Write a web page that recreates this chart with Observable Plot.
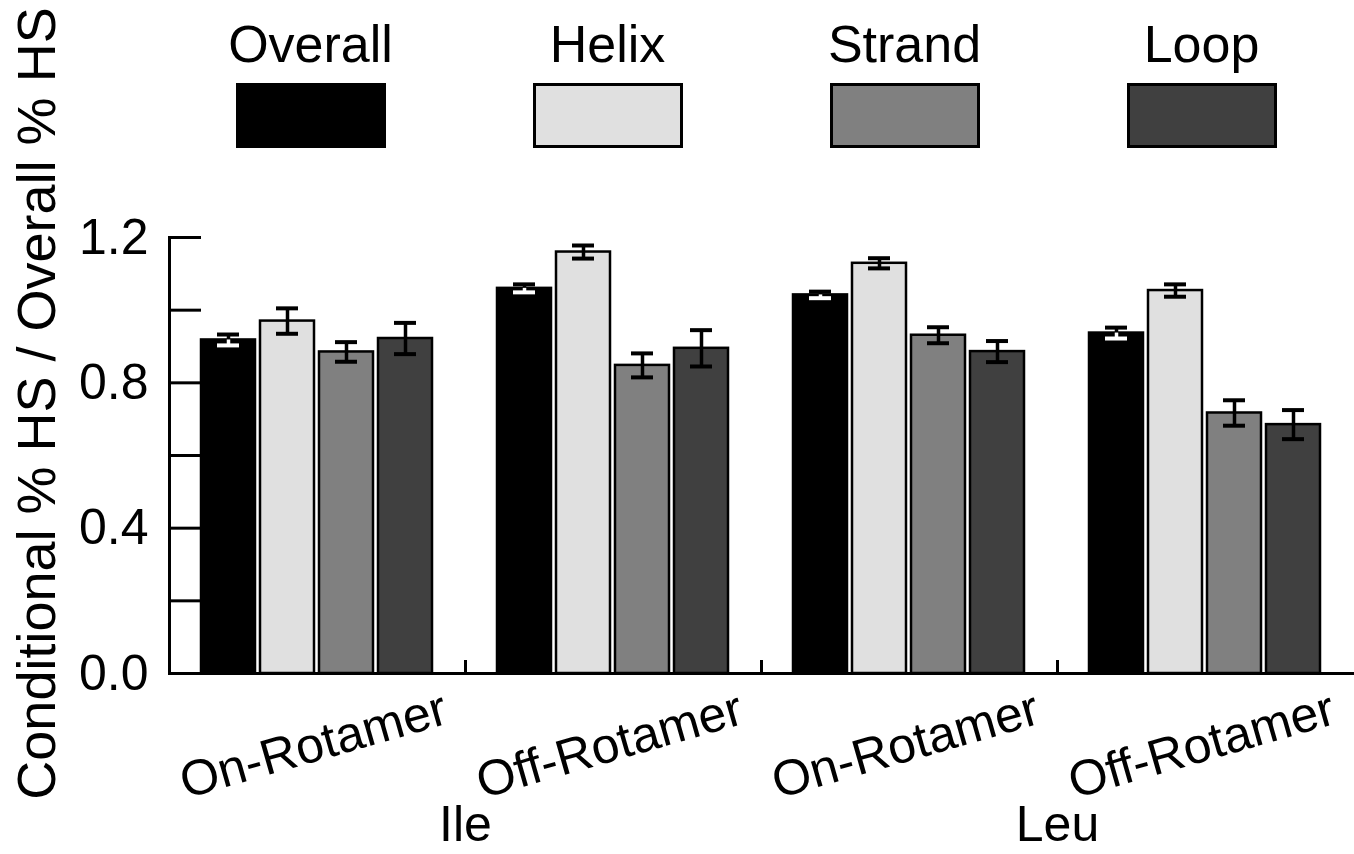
<!DOCTYPE html>
<html>
<head>
<meta charset="utf-8">
<script src="https://cdn.jsdelivr.net/npm/d3@7"></script>
<script src="https://cdn.jsdelivr.net/npm/@observablehq/plot@0.6"></script>
<style>
  body { margin: 0; background: #fff; font-family: "Liberation Sans", Arial, sans-serif; }
  #wrap { position: relative; width: 1354px; height: 854px; overflow: hidden; }
  #legend { position: absolute; left: 162px; top: 0; display: flex; }
  .item { width: 297px; display: flex; flex-direction: column; align-items: center; }
  .lab { font-size: 52px; line-height: 52px; margin-top: 18px; color: #000; }
  .sw { width: 150px; height: 65px; box-sizing: border-box; border: 3px solid #000; margin-top: 13px; }
</style>
</head>
<body>
<div id="wrap"><div id="chart"></div><div id="legend"></div></div>
<script>
// ---- data ----
const groups = ["Ile On-Rotamer", "Ile Off-Rotamer", "Leu On-Rotamer", "Leu Off-Rotamer"];
const groupLabels = ["On-Rotamer", "Off-Rotamer", "On-Rotamer", "Off-Rotamer"];
const residues = ["Ile", "Leu"];
const series = ["Overall", "Helix", "Strand", "Loop"];
const overall    = [0.918, 1.060, 1.042, 0.937];
const overallErr = [0.015, 0.011, 0.009, 0.015];
const helix      = [0.970, 1.160, 1.129, 1.054];
const helixErr   = [0.035, 0.018, 0.014, 0.017];
const strand     = [0.885, 0.848, 0.931, 0.717];
const strandErr  = [0.027, 0.033, 0.022, 0.035];
const loop       = [0.922, 0.895, 0.886, 0.685];
const loopErr    = [0.043, 0.050, 0.029, 0.040];
const majorTicks = [0.0, 0.4, 0.8, 1.2];
const allTicks   = [0.0, 0.2, 0.4, 0.6, 0.8, 1.0, 1.2];
const yLabel = "Conditional % HS / Overall % HS";
const colors = ["#000000", "#e0e0e0", "#808080", "#404040"];

const values = [overall, helix, strand, loop];
const errs = [overallErr, helixErr, strandErr, loopErr];
const rows = groups.flatMap((g, gi) => series.map((s, si) => ({
  group: g, series: s, value: values[si][gi], err: errs[si][gi]
})));

const isOverall = d => d.series === series[0];
const notOverall = d => d.series !== series[0];

const chart = Plot.plot({
  width: 1354,
  height: 854,
  marginTop: 237,
  marginBottom: 181,
  marginLeft: 168,
  marginRight: 0,
  style: { fontFamily: "'Liberation Sans', Arial, sans-serif", fontSize: "50px", color: "#000", background: "#fff" },
  fx: { domain: groups, padding: 0, axis: null },
  x: { domain: series, paddingInner: 0.084, paddingOuter: 0.538, axis: null },
  y: { domain: [0, 1.2] },
  color: { domain: series, range: colors },
  marks: [
    Plot.barY(rows, { fx: "group", x: "series", y: "value", fill: "series", stroke: "#000", strokeWidth: 2.5 }),
    // upper error bars
    Plot.ruleX(rows, { fx: "group", x: "series", y1: "value", y2: d => d.value + d.err, stroke: "#000", strokeWidth: 3.5 }),
    Plot.tickY(rows, { fx: "group", x: "series", y: d => d.value + d.err, stroke: "#000", strokeWidth: 4, inset: 16 }),
    // lower error bars
    Plot.ruleX(rows, { filter: notOverall, fx: "group", x: "series", y1: d => d.value - d.err, y2: "value", stroke: "#000", strokeWidth: 3.5 }),
    Plot.tickY(rows, { filter: notOverall, fx: "group", x: "series", y: d => d.value - d.err, stroke: "#000", strokeWidth: 4, inset: 16 }),
    Plot.ruleX(rows, { filter: isOverall, fx: "group", x: "series", y1: d => d.value - d.err, y2: "value", stroke: "#fff", strokeWidth: 3.5 }),
    Plot.tickY(rows, { filter: isOverall, fx: "group", x: "series", y: d => d.value - d.err, stroke: "#fff", strokeWidth: 4, inset: 16 }),
    // axes
    Plot.frame({ anchor: "bottom", strokeWidth: 3 }),
    Plot.frame({ anchor: "left", strokeWidth: 3, facetAnchor: "left" }),
    Plot.frame({ anchor: "left", strokeWidth: 3, insetTop: 424 }),
    Plot.axisY({ ticks: allTicks, tickSize: -32, strokeWidth: 3, fill: "none", label: null }),
    Plot.axisY({ ticks: majorTicks, tickSize: 0, tickPadding: 21, tickFormat: d3.format(".1f"), fontSize: 50, label: null }),
    // category labels
    Plot.text(groups, { fx: d => d, text: (d, i) => groupLabels[i], frameAnchor: "bottom", dx: -4, dy: 72, rotate: -16, fontSize: 50, textAnchor: "middle", lineAnchor: "middle" }),
    Plot.text(residues, { fx: (d, i) => groups[i * 2], text: d => d, frameAnchor: "bottom-right", dy: 151, fontSize: 50, textAnchor: "middle", lineAnchor: "middle" }),
    // y label
    Plot.text([yLabel], { fx: () => groups[0], text: d => d, frameAnchor: "left", dx: -132, dy: -52, rotate: -90, fontSize: 54, textAnchor: "middle", lineAnchor: "middle" })
  ]
});
document.getElementById("chart").appendChild(chart);

// legend
const legend = document.getElementById("legend");
series.forEach((s, i) => {
  const item = document.createElement("div");
  item.className = "item";
  const lab = document.createElement("div");
  lab.className = "lab";
  lab.textContent = s;
  const sw = document.createElement("div");
  sw.className = "sw";
  sw.style.background = colors[i];
  item.appendChild(lab);
  item.appendChild(sw);
  legend.appendChild(item);
});
</script>
</body>
</html>
